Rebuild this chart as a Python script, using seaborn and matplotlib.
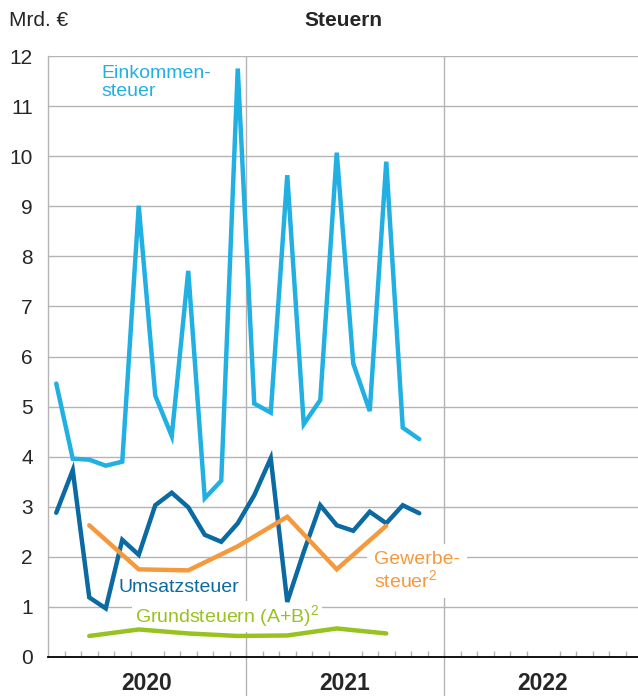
import matplotlib
matplotlib.use("Agg")
import matplotlib.pyplot as plt
import seaborn as sns
import numpy as np
import pandas as pd

# monthly series, Jan 2020 - Nov 2021 (Mrd. EUR)
months = pd.period_range("2020-01", "2021-11", freq="M")
einkommensteuer = [5.46, 3.96, 3.94, 3.82, 3.90, 9.01, 5.22, 4.41, 7.71, 3.17, 3.52, 11.75,
                   5.06, 4.88, 9.62, 4.65, 5.13, 10.07, 5.86, 4.91, 9.89, 4.58, 4.35]
umsatzsteuer = [2.88, 3.73, 1.19, 0.97, 2.34, 2.04, 3.03, 3.28, 2.99, 2.44, 2.30, 2.67,
                3.23, 3.97, 1.10, 2.10, 3.03, 2.63, 2.52, 2.90, 2.67, 3.03, 2.87]

# quarterly series
quarters = pd.period_range("2020-03", "2021-09", freq="3M")
gewerbesteuer = [2.63, 1.75, 1.73, 2.21, 2.80, 1.75, 2.62]
grundsteuern = [0.42, 0.55, 0.47, 0.42, 0.43, 0.57, 0.47]

years = ["2020", "2021", "2022"]
y_ticks = list(range(0, 13))

colors = {
    "Einkommensteuer": "#22b0e3",
    "Umsatzsteuer": "#0a6aa1",
    "Gewerbesteuer": "#f59a3c",
    "Grundsteuern": "#98c21f",
}


def month_pos(periods):
    # month index from Jan 2020, centred in the month
    return [(p.year - 2020) * 12 + p.month - 1 + 0.5 for p in periods]


frames = []
for name, per, vals in [("Einkommensteuer", months, einkommensteuer),
                        ("Umsatzsteuer", months, umsatzsteuer),
                        ("Gewerbesteuer", quarters, gewerbesteuer),
                        ("Grundsteuern", quarters, grundsteuern)]:
    frames.append(pd.DataFrame({"x": month_pos(per), "value": vals, "series": name}))
df = pd.concat(frames, ignore_index=True)

sns.set_theme(style="white")
plt.rcParams["font.family"] = ["Liberation Sans", "DejaVu Sans"]
plt.rcParams["mathtext.fontset"] = "custom"
plt.rcParams["mathtext.rm"] = "Liberation Sans"
plt.rcParams["mathtext.it"] = "Liberation Sans"

fig = plt.figure(figsize=(6.38, 6.96), dpi=100)
ax = fig.add_axes([48 / 638, 39 / 696, 594 / 638, 601 / 696])

grid_col = "#b4b4b4"
for v in y_ticks:
    ax.axhline(v, color=grid_col, lw=1.0, zorder=1)
for i in range(1, len(years)):
    ax.axvline(12 * i, ymin=-0.07, ymax=1, color=grid_col, lw=1.0, zorder=1, clip_on=False)

sns.lineplot(data=df, x="x", y="value", hue="series", palette=colors, lw=3.2,
             legend=False, ax=ax, zorder=3, sort=False)
for line in ax.get_lines():
    line.set_solid_joinstyle("miter")

ax.set_xlim(0, 36)
ax.set_ylim(0, 12)
ax.set_yticks(y_ticks)
ax.set_yticklabels([str(v) for v in y_ticks], fontsize=15)
ax.tick_params(axis="y", length=0, pad=11)

ax.set_xticks([6, 18, 30])
ax.set_xticklabels(years, fontsize=16.5, fontweight="bold")
ax.set_xticks(np.arange(1, 36), minor=True)
ax.tick_params(axis="x", which="major", length=0, pad=11)
ax.tick_params(axis="x", which="minor", direction="in", length=4.3, width=1, color=grid_col, bottom=True)
ax.set_xlabel("")
ax.set_ylabel("")

for s in ["top", "right"]:
    ax.spines[s].set_visible(False)
ax.spines["left"].set_color(grid_col)
ax.spines["left"].set_linewidth(1.0)
ax.spines["bottom"].set_color("black")
ax.spines["bottom"].set_linewidth(1.3)
ax.spines["bottom"].set_zorder(4)

box = dict(facecolor="white", edgecolor="none", pad=2)
ax.text(3.25, 11.47, "Einkommen-\nsteuer", color=colors["Einkommensteuer"], fontsize=14,
        va="center", ha="left", linespacing=1.05)
ax.text(4.3, 1.38, "Umsatzsteuer", color=colors["Umsatzsteuer"], fontsize=14,
        va="center", ha="left", bbox=box, zorder=2.5)
ax.text(5.27, 0.81, "Grundsteuern (A+B)$^2$", color=colors["Grundsteuern"], fontsize=14,
        va="center", ha="left", bbox=box, zorder=2.5)
ax.text(19.75, 1.72, "Gewerbe-\nsteuer$^2$", color=colors["Gewerbesteuer"], fontsize=14,
        va="center", ha="left", linespacing=1.05,
        bbox=dict(facecolor="white", edgecolor="none", pad=5), zorder=2.5)

fig.text(9 / 638, 1 - 21 / 696, "Mrd. €", fontsize=15, ha="left", va="center")
fig.text(343 / 638, 1 - 21 / 696, "Steuern", fontsize=15, fontweight="bold", ha="center", va="center")

fig.savefig("out.png", dpi=100)
